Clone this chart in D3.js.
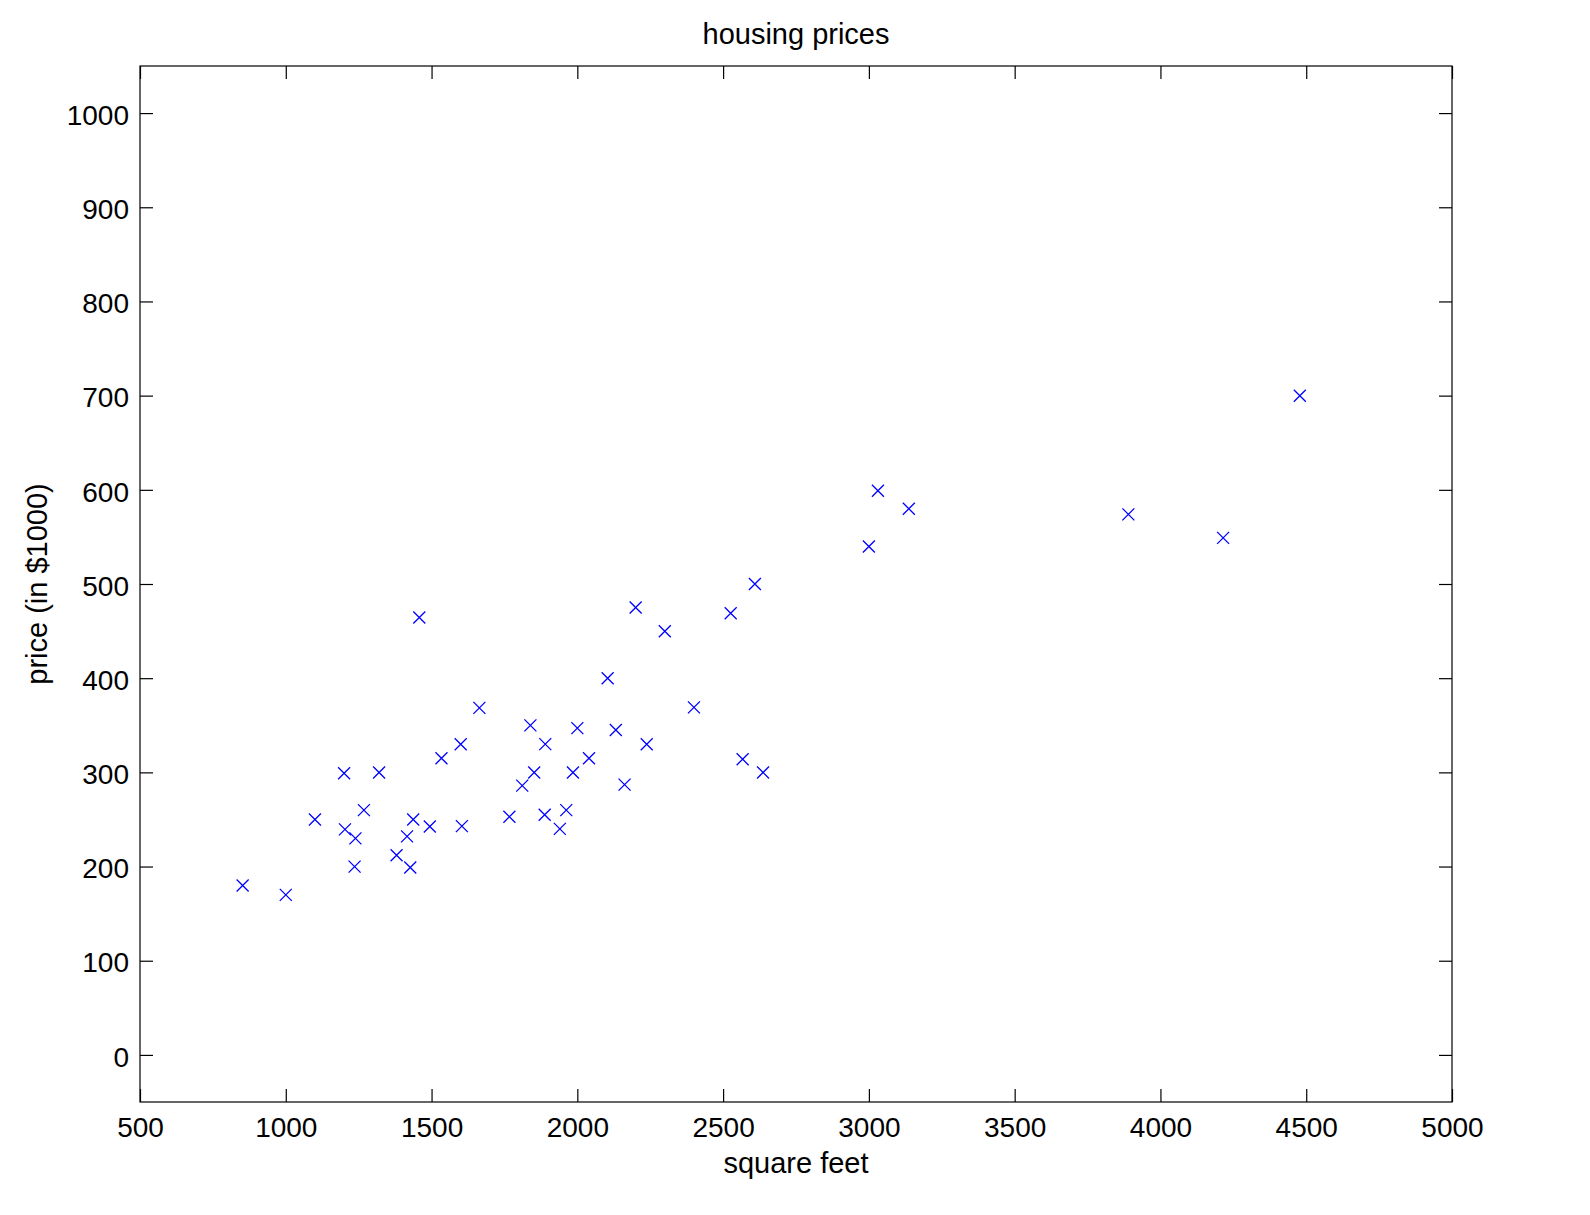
<!DOCTYPE html>
<html><head><meta charset="utf-8">
<script src="https://cdn.jsdelivr.net/npm/d3@7"></script>
<style>
html,body{margin:0;padding:0;background:#fff;overflow:hidden;}
svg{display:block;}
text{font-family:"Liberation Sans",Arial,Helvetica,sans-serif;fill:#000;}
</style></head>
<body>
<svg id="c" width="1590" height="1215"></svg>
<script>
const squareFeet = [2104,1600,2400,1416,3000,1985,1534,1427,1380,1494,1940,2000,1890,4478,1268,2300,1320,1236,2609,3031,1767,1888,1604,1962,3890,1100,1458,2526,2200,2637,1839,1000,2040,3137,1811,1437,1239,2132,4215,2162,1664,2238,2567,1200,852,1852,1203];
const priceK = [399.9,329.9,369,232,539.9,299.9,314.9,199,212,242.5,240,347,330,699.9,259.9,449.9,299.9,199.9,500,599,252.9,255,242.9,259.9,573.9,249.9,464.5,469,475,299.9,349.9,169.9,314.9,579.9,285.9,249.9,229.9,345,549,287,368.5,329.9,314,299,179.9,299.9,239.5];
const xTicks = [500,1000,1500,2000,2500,3000,3500,4000,4500,5000];
const yTicks = [0,100,200,300,400,500,600,700,800,900,1000];

(function(){
const L=140,R=1452,T=66,B=1102;
const svg=d3.select("#c");
const x=d3.scaleLinear().domain([500,5000]).range([L,R]);
const y=d3.scaleLinear().domain([-50,1050]).range([B,T]);
const tk=13, fs=28, fl=29;

svg.append("rect").attr("x",L).attr("y",T).attr("width",R-L).attr("height",B-T)
  .attr("fill","none").attr("stroke","#000").attr("stroke-width",1.2);

const gB=svg.append("g").attr("transform",`translate(0,${B})`)
  .call(d3.axisBottom(x).tickValues(xTicks).tickSize(-tk).tickPadding(15).tickFormat(d3.format("d")));
const gT=svg.append("g").attr("transform",`translate(0,${T})`)
  .call(d3.axisTop(x).tickValues(xTicks).tickSize(-tk).tickFormat(""));
const gL=svg.append("g").attr("transform",`translate(${L},0)`)
  .call(d3.axisLeft(y).tickValues(yTicks).tickSize(-tk).tickPadding(11).tickFormat(d3.format("d")));
const gR=svg.append("g").attr("transform",`translate(${R},0)`)
  .call(d3.axisRight(y).tickValues(yTicks).tickSize(-tk).tickFormat(""));
[gB,gT,gL,gR].forEach(g=>{
  g.select(".domain").remove();
  g.selectAll(".tick line").attr("stroke","#000").attr("stroke-width",1.2);
  g.selectAll(".tick text").attr("font-size",fs).attr("font-family","Liberation Sans, Arial, sans-serif").attr("fill","#000");
});
gL.selectAll(".tick text").attr("dy","0.4em");

const s=6;
const pts=svg.append("g");
squareFeet.forEach((sf,i)=>{
  const cx=x(sf), cy=y(priceK[i]);
  pts.append("path").attr("d",`M${cx-s},${cy-s}L${cx+s},${cy+s}M${cx-s},${cy+s}L${cx+s},${cy-s}`)
    .attr("stroke","#0000ff").attr("stroke-width",1.3).attr("fill","none");
});

svg.append("text").attr("x",(L+R)/2).attr("y",44).attr("text-anchor","middle").attr("font-size",fl).text("housing prices");
svg.append("text").attr("x",(L+R)/2).attr("y",1173).attr("text-anchor","middle").attr("font-size",fl).text("square feet");
svg.append("text").attr("transform",`translate(47,${(T+B)/2}) rotate(-90)`).attr("text-anchor","middle").attr("font-size",fl).text("price (in $1000)");
})();
</script>
</body></html>
